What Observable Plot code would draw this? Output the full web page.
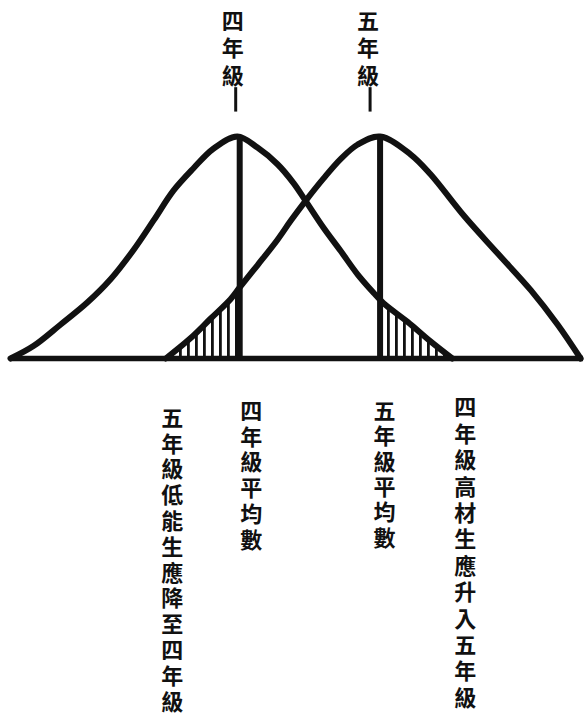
<!DOCTYPE html>
<html><head><meta charset="utf-8">
<script src="https://cdn.jsdelivr.net/npm/d3@7"></script>
<script src="https://cdn.jsdelivr.net/npm/@observablehq/plot@0.6"></script>
<style>
body{margin:0;background:#fff;}
#chart svg{font-family:"Noto Sans CJK TC","Noto Sans CJK SC",sans-serif;background:#fff;}
#chart svg text{writing-mode:vertical-rl;text-orientation:upright;}
</style></head><body><div id="chart"></div>
<script>
// Grade 4 (四年級) distribution curve
const grade4X = [0, 4, 8.7, 13.4, 17.5, 21.5, 25, 28.4, 31.9, 35.4, 39.6, 43.1, 46.6, 49.4, 51.5, 54.6, 57.6, 60.6, 63.4, 65.1, 69.3, 73.3, 77.1];
const grade4Y = [0, 5.6, 15.2, 25.2, 35.8, 49, 62.3, 75.5, 85.6, 94.5, 100, 95, 87.5, 79, 71, 59, 48.5, 37.8, 29.5, 24.9, 16.5, 7.7, 0];
// Grade 5 (五年級) distribution curve
const grade5X = [27.1, 31.4, 34.9, 38.4, 40, 43.1, 46.6, 48.9, 51.5, 54.6, 57.6, 60.6, 64.5, 69.8, 73.3, 79.1, 85, 90.8, 95.5, 99.5];
const grade5Y = [0, 9.1, 17.9, 26.7, 32, 42, 53.5, 62, 71, 81, 89.8, 96.4, 100, 92, 83, 64.4, 47.4, 30.8, 15.2, 0];
// Means of the two grades
const gradeMeans = [40, 64.5];
const gradeNames = ["四年級", "五年級"];
const meanLabels = ["四年級平均數", "五年級平均數"];
const tailLabels = ["五年級低能生應降至四年級", "四年級高材生應升入五年級"];

const g4 = grade4X.map((x, i) => ({x, y: grade4Y[i]}));
const g5 = grade5X.map((x, i) => ({x, y: grade5Y[i]}));
const lowTail = g5.filter(d => d.x <= gradeMeans[0]);   // grade-5 pupils below the grade-4 mean
const highTail = g4.filter(d => d.x >= gradeMeans[1] - 0.5);  // grade-4 pupils above the grade-5 mean
const tailStart = lowTail[0].x;
const tailEnd = highTail[highTail.length - 1].x;

const textStyle = {fontSize: 22, fontWeight: "bold", fill: "#111", lineAnchor: "bottom", textAnchor: "start"};
const curveStyle = {x: "x", y: "y", curve: "catmull-rom", stroke: "#111", strokeWidth: 6, strokeLinejoin: "round", strokeLinecap: "round"};

// one vertical column of characters, written top to bottom
function column(label, xv, frameAnchor, dy0, pitch, dx) {
  return [...label].map((ch, i) =>
    Plot.text([ch], {x: () => xv, text: d => d, frameAnchor, dy: dy0 + i * pitch, dx, ...textStyle}));
}

const chart = Plot.plot({
  width: 585, height: 717,
  marginLeft: 10, marginRight: 2, marginTop: 136, marginBottom: 359,
  x: {domain: [0, 100], axis: null},
  y: {domain: [0, 100], axis: null},
  marks: [
    Plot.areaY(lowTail, {x: "x", y: "y", curve: "catmull-rom", fill: "url(#hatch)"}),
    Plot.areaY(highTail, {x: "x", y: "y", curve: "catmull-rom", fill: "url(#hatch)"}),
    Plot.line(g4, curveStyle),
    Plot.line(g5, curveStyle),
    Plot.ruleX(gradeMeans, {y1: 0, y2: 100, stroke: "#111", strokeWidth: 6}),
    Plot.ruleY([0], {stroke: "#111", strokeWidth: 5.5}),
    // top labels and their short pointers
    ...column(gradeNames[0], gradeMeans[0], "top", -127, 27.5, -7),
    ...column(gradeNames[1], gradeMeans[1], "top", -127, 27.5, -12),
    Plot.ruleX([gradeMeans[0]], {y1: 111, y2: 122, dx: -4, stroke: "#111", strokeWidth: 3}),
    Plot.ruleX([gradeMeans[1]], {y1: 111, y2: 122, dx: -10, stroke: "#111", strokeWidth: 3}),
    // bottom labels
    ...column(meanLabels[0], gradeMeans[0], "bottom", 41, 25.8, 11.5),
    ...column(meanLabels[1], gradeMeans[1], "bottom", 41, 25.4, 4.5),
    ...column(tailLabels[0], tailStart, "bottom", 48, 25.8, 6.5),
    ...column(tailLabels[1], tailEnd, "bottom", 37.5, 26.4, 13)
  ]
});

d3.select(chart).insert("defs", ":first-child").html(
  '<pattern id="hatch" patternUnits="userSpaceOnUse" width="8" height="8"><rect x="3" y="0" width="2.8" height="8" fill="#111"/></pattern>'
);
document.getElementById("chart").appendChild(chart);
</script></body></html>
